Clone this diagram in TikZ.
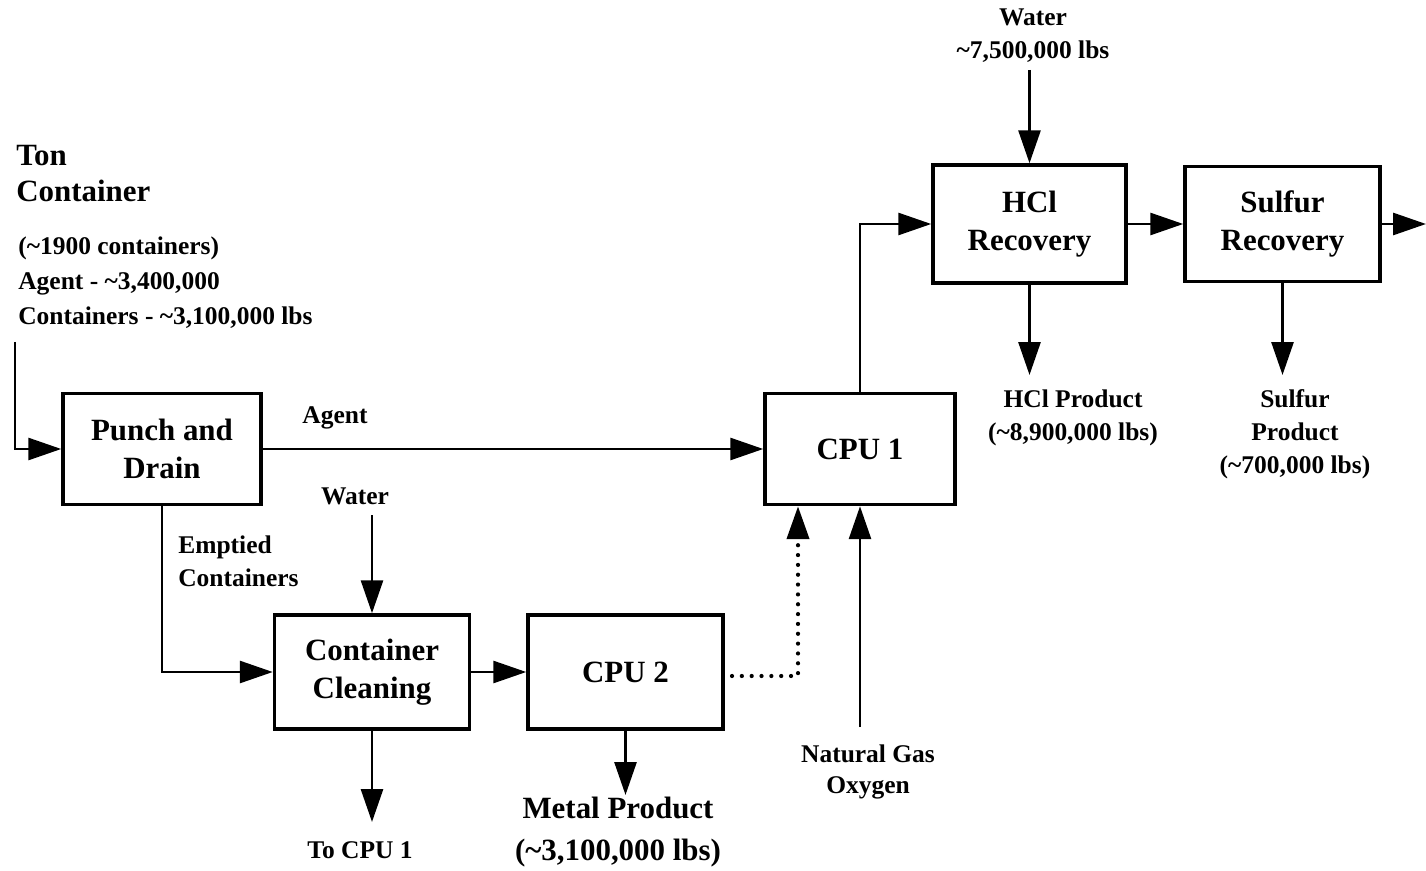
\documentclass[tikz,border=0pt]{standalone}
\usepackage{fontspec}
\setmainfont{Liberation Serif}
\usetikzlibrary{arrows.meta}

\newcommand{\bigtxt}{\fontsize{17.6}{21.6}\selectfont\bfseries}
\newcommand{\smalltxt}{\fontsize{14.5}{18.8}\selectfont\bfseries}
\newcommand{\tld}{\textasciitilde}

\tikzset{
  unit/.style={draw, line width=2pt, align=center, inner sep=0pt, font=\bigtxt},
  lbl/.style={align=center, inner sep=0pt, font=\smalltxt},
  flow/.style={line width=1.6pt, -{Triangle[length=0.66cm,width=0.44cm]}},
  recycle/.style={line width=2.4pt, line cap=round, dash pattern=on 0pt off 5.6pt, -{Triangle[length=0.66cm,width=0.44cm]}},
}

\begin{document}
\begin{tikzpicture}[x=0.02cm,y=-0.02cm]
\useasboundingbox (0,0) rectangle (1426,871);

\node[unit, minimum width=3.96cm, minimum height=2.22cm] (pd) at (162,449) {Punch and\\Drain};
\node[unit, minimum width=3.8cm, minimum height=2.22cm] (cpu1) at (860,449) {CPU 1};
\node[unit, minimum width=3.86cm, minimum height=2.36cm] (hcl) at (1029.5,224) {HCl\\Recovery};
\node[unit, minimum width=3.9cm, minimum height=2.3cm] (sulf) at (1282.5,224) {Sulfur\\Recovery};
\node[unit, minimum width=3.9cm, minimum height=2.28cm] (clean) at (372,672) {Container\\Cleaning};
\node[unit, minimum width=3.9cm, minimum height=2.28cm] (cpu2) at (625.5,672) {CPU 2};

\node[lbl, font=\fontsize{17.6}{21}\selectfont\bfseries, align=left, anchor=west] (ton) at (16,173.5) {Ton\\Container};
\node[lbl, font=\fontsize{14.5}{19.9}\selectfont\bfseries, align=left, anchor=west] (tonq) at (18,283) {(\tld1900 containers)\\Agent - \tld3,400,000\\Containers - \tld3,100,000 lbs};
\node[lbl] (agent) at (335,418) {Agent};
\node[lbl] (wat1) at (355,496) {Water};
\node[lbl, align=left, anchor=west] (empt) at (178,561) {Emptied\\Containers};
\node[lbl] (tocpu) at (360,850) {To CPU 1};
\node[lbl, font=\fontsize{17.6}{23.4}\selectfont\bfseries] (metal) at (618,832) {Metal Product\\(\tld3,100,000 lbs)};
\node[lbl, font=\fontsize{14.5}{17.6}\selectfont\bfseries] (gas) at (868,772) {Natural Gas\\Oxygen};
\node[lbl] (wat2) at (1033,36) {Water\\\tld7,500,000 lbs};
\node[lbl] (hclp) at (1073,418) {HCl Product\\(\tld8,900,000 lbs)};
\node[lbl] (sulfp) at (1295,434) {Sulfur\\Product\\(\tld700,000 lbs)};

\coordinate (tin) at (15,342);
\coordinate (w1) at (372,515);
\coordinate (tc) at (372,822);
\coordinate (mp) at (625.5,795);
\coordinate (dt) at (798,676);
\coordinate (dt0) at (732,676);
\coordinate (gs) at (860,727);
\coordinate (w2) at (1029.5,70);
\coordinate (hp) at (1029.5,375);
\coordinate (sp) at (1282.5,375);
\coordinate (out) at (1426,224);

\draw[flow] (tin) |- (pd);
\draw[flow] (pd) -- (cpu1);
\draw[flow] (pd) |- (clean);
\draw[flow] (w1) -- (clean);
\draw[flow] (clean) -- (cpu2);
\draw[flow] (clean) -- (tc);
\draw[flow] (cpu2) -- (mp);
\draw[recycle] (dt0) -- (dt) -- (dt |- cpu1.south);
\draw[flow] (gs) -- (cpu1);
\draw[flow] (cpu1) |- (hcl);
\draw[flow] (w2) -- (hcl);
\draw[flow] (hcl) -- (sulf);
\draw[flow] (hcl) -- (hp);
\draw[flow] (sulf) -- (sp);
\draw[flow] (sulf) -- (out);

\end{tikzpicture}
\end{document}
